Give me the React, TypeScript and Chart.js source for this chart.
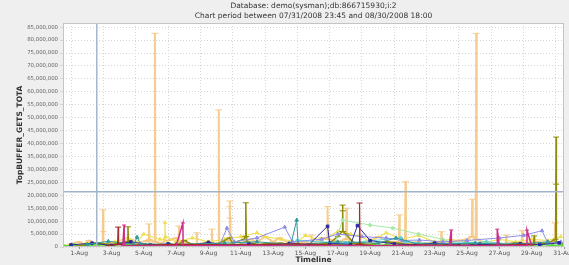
import React, { useEffect, useRef } from "react";
import { Chart, registerables } from "chart.js";

Chart.register(...registerables);

const TITLE_LINES = [
  "Database: demo(sysman);db:866715930;i:2",
  "Chart period between 07/31/2008 23:45 and 08/30/2008 18:00",
];
const Y_TITLE = "TopBUFFER_GETS_TOTA";
const X_TITLE = "Timeline";

// x in days from 1-Aug, y in millions
const X_MIN = -1;
const X_MAX = 30;
const Y_MAX = 86.6;
const X_TICK_DAYS = [0, 2, 4, 6, 8, 10, 12, 14, 16, 18, 20, 22, 24, 26, 28, 30];
const X_TICK_LABELS = [
  "1-Aug", "3-Aug", "5-Aug", "7-Aug", "9-Aug", "11-Aug", "13-Aug", "15-Aug",
  "17-Aug", "19-Aug", "21-Aug", "23-Aug", "25-Aug", "27-Aug", "29-Aug", "31-Aug",
];
const X_GRID_DAYS = [-0.5, 1.5, 3.5, 5.5, 7.5, 9.5, 11.5, 13.5, 15.5, 17.5, 19.5, 21.5, 23.5, 25.5, 27.5, 29.5];
const Y_TICKS = [0, 5, 10, 15, 20, 25, 30, 35, 40, 45, 50, 55, 60, 65, 70, 75, 80, 85];

const MARKER_DAY = 1.09;
const THRESHOLD = 21.35;

const ORANGE_X = [-0.8, -0.5, 0, 0.3, 0.6, 1.0, 1.45, 1.48, 1.49, 1.51, 2.0, 2.5, 3.2, 3.6, 4.2, 4.29, 4.32, 4.35, 4.66, 4.69, 4.72, 5.0, 5.5, 6.0, 6.14, 6.17, 6.2, 6.8, 7.25, 7.28, 7.31, 8.0, 8.18, 8.21, 8.24, 8.61, 8.64, 8.67, 9.0, 9.29, 9.32, 9.33, 9.34, 9.36, 10.0, 10.6, 11.0, 11.5, 12.0, 12.4, 13.0, 14.0, 14.35, 14.38, 14.41, 15.0, 15.34, 15.37, 15.4, 16.0, 16.51, 16.54, 16.57, 17.2, 18.0, 18.5, 19.2, 19.78, 19.81, 19.84, 20.16, 20.19, 20.22, 21.0, 21.5, 22.38, 22.41, 22.44, 23.5, 24.0, 24.29, 24.32, 24.35, 24.54, 24.57, 24.6, 25.0, 25.5, 26.39, 26.42, 26.45, 27.38, 27.41, 27.44, 28.3, 29.0, 29.42, 29.45, 29.48, 30.0];
const ORANGE_Y = [0.5, 1.2, 2.0, 1.0, 2.5, 0.8, 1.0, 14.3, 5.9, 1.0, 2.0, 1.5, 3.0, 1.5, 2.5, 2.0, 8.9, 3.0, 2.0, 82.6, 2.0, 1.5, 2.5, 3.5, 2.0, 8.1, 2.0, 1.2, 1.0, 5.5, 1.0, 2.0, 1.5, 6.9, 1.5, 1.0, 53.0, 1.0, 2.0, 2.5, 17.8, 15.6, 11.2, 2.5, 1.5, 3.0, 2.0, 4.0, 2.0, 3.5, 1.5, 2.0, 1.0, 4.6, 1.0, 3.5, 3.0, 15.6, 3.0, 2.0, 3.0, 15.0, 3.0, 1.5, 2.5, 4.0, 2.0, 2.0, 12.4, 2.0, 1.5, 25.2, 1.5, 2.0, 1.0, 1.5, 5.9, 1.5, 2.5, 3.0, 4.0, 18.5, 4.0, 3.0, 82.6, 3.0, 2.0, 1.5, 1.0, 4.6, 1.0, 1.5, 6.3, 1.5, 2.0, 1.5, 2.0, 9.3, 2.0, 1.0];

const YELLOW_X = [-0.5, 0.5, 1.5, 2.2, 3.0, 3.5, 4.0, 5.0, 5.28, 5.31, 5.34, 6.0, 7.0, 8.0, 9.0, 10.0, 11.0, 11.5, 12.5, 13.5, 14.0, 15.0, 16.0, 16.8, 17.5, 18.0, 19.0, 20.0, 21.0, 22.0, 23.0, 24.0, 25.0, 26.0, 27.0, 28.0, 29.0, 29.8];
const YELLOW_Y = [0.8, 1.5, 1.0, 2.0, 3.5, 1.5, 5.0, 3.0, 3.0, 9.4, 4.0, 2.0, 3.5, 2.0, 3.0, 4.0, 5.5, 4.0, 3.0, 2.0, 4.5, 2.5, 6.0, 5.0, 4.0, 2.0, 5.5, 3.0, 4.5, 2.0, 3.0, 2.0, 1.5, 3.0, 2.0, 3.0, 2.5, 4.0];

const OLIVE_X = [0, 1.0, 2.0, 2.99, 3.02, 3.05, 3.5, 4.5, 6.0, 6.5, 7.0, 8.5, 9.3, 9.5, 10.2, 10.28, 10.31, 10.34, 10.4, 11.0, 12.5, 13.0, 14.5, 15.5, 16.0, 16.27, 16.3, 16.31, 16.33, 16.5, 17.0, 18.0, 19.0, 20.5, 22.0, 23.0, 24.0, 25.5, 27.0, 28.12, 28.15, 28.18, 29.0, 29.48, 29.51, 29.52, 29.54, 29.8];
const OLIVE_Y = [0.5, 1.5, 1.0, 2.0, 7.8, 1.5, 0.8, 1.0, 0.5, 2.5, 1.0, 1.0, 3.5, 1.5, 3.0, 4.0, 17.1, 4.0, 2.0, 1.0, 1.5, 0.5, 1.0, 1.5, 4.0, 6.0, 16.2, 14.0, 6.0, 5.0, 1.5, 1.0, 2.0, 1.0, 1.5, 0.8, 1.5, 1.0, 1.5, 1.0, 4.3, 1.0, 1.5, 3.0, 42.5, 24.3, 2.0, 1.5];

const GREEN_X = [-0.9, -0.3, 0.4, 1.2, 2.0, 2.7, 3.4, 4.1, 4.9, 5.6, 6.3, 7.0, 7.8, 8.5, 9.2, 10.0, 10.8, 11.5, 12.2, 13.0, 13.8, 14.5, 15.2, 16.0, 16.7, 17.5, 18.3, 19.0, 19.8, 20.6, 21.4, 22.2, 23.0, 23.8, 24.6, 25.4, 26.2, 27.0, 27.8, 28.6, 29.3, 29.9];
const GREEN_Y = [0.3, 0.8, 0.4, 1.0, 0.5, 1.2, 0.6, 0.9, 0.4, 1.1, 0.5, 0.8, 0.3, 1.0, 0.6, 0.7, 0.4, 1.2, 0.5, 0.9, 0.6, 0.4, 1.0, 0.7, 1.5, 0.8, 0.5, 0.9, 0.4, 0.7, 1.0, 0.5, 0.8, 0.4, 0.9, 0.6, 0.3, 0.8, 0.5, 1.0, 0.6, 0.9];

const BLUE_X = [-0.5, 0.8, 2.0, 3.2, 4.4, 5.5, 6.8, 8.0, 9.0, 10.5, 11.8, 13.0, 14.2, 15.37, 15.5, 16.8, 17.22, 18.0, 19.5, 20.8, 22.0, 23.5, 24.8, 26.0, 27.3, 28.5, 29.7];
const BLUE_Y = [0.8, 1.5, 0.6, 2.0, 0.8, 1.2, 0.5, 1.8, 0.7, 1.2, 0.6, 1.4, 0.8, 8.0, 1.5, 1.0, 8.3, 2.5, 1.2, 0.8, 1.5, 0.6, 1.1, 0.7, 1.3, 0.9, 1.6];

const LAV_X = [8.7, 9.14, 9.6, 11.0, 12.72, 13.2, 15.0, 16.0, 17.5, 19.0, 20.0, 21.05, 22.5, 24.0, 26.0, 27.5, 28.64, 29.0, 29.8];
const LAV_Y = [0.8, 7.3, 2.0, 3.5, 7.7, 2.0, 3.0, 5.0, 4.0, 3.5, 2.5, 2.7, 2.0, 2.5, 3.5, 4.5, 6.3, 1.5, 2.0];

const TEAL_X = [0.5, 1.8, 3.4, 3.58, 3.8, 6.0, 9.0, 11.0, 13.1, 13.46, 13.55, 16.0, 18.5, 19.6, 21.0, 24.5, 27.0, 29.0];
const TEAL_Y = [1.0, 2.2, 1.0, 3.8, 1.2, 1.0, 1.5, 2.0, 1.0, 10.4, 1.0, 2.0, 1.5, 3.5, 1.0, 1.5, 1.0, 2.0];

const RED_X = [1.8, 2.38, 2.41, 2.44, 3.0, 6.0, 10.0, 13.5, 16.8, 17.32, 17.35, 17.38, 18.0, 21.0, 25.0, 28.0];
const RED_Y = [0.5, 1.0, 7.7, 1.0, 0.5, 1.0, 0.8, 1.2, 0.6, 1.0, 17.0, 1.0, 0.5, 0.8, 0.6, 1.0];

const MAG_X = [2.7, 2.78, 2.79, 3.0, 6.0, 6.42, 6.43, 7.0, 22.9, 23.02, 23.03, 25.86, 25.87, 26.0, 27.7, 27.71, 28.0];
const MAG_Y = [0.5, 8.5, 0.5, 0.4, 0.5, 9.3, 0.5, 0.5, 0.4, 6.6, 0.4, 0.4, 6.9, 0.5, 0.5, 6.5, 0.4];

const LG_X = [15.8, 16.3, 18.0, 19.4, 21.0, 22.5, 23.5];
const LG_Y = [1.0, 10.4, 8.5, 7.3, 5.0, 3.0, 1.0];

const CYAN_X = [13.0, 13.5, 16.5, 19.9, 20.2, 22.0, 25.2, 27.0];
const CYAN_Y = [1.0, 2.5, 1.5, 3.5, 2.0, 1.2, 2.0, 1.0];

const FONT = "'DejaVu Sans', sans-serif";

const pts = (xs: number[], ys: number[]) => xs.map((x, i) => ({ x, y: ys[i] }));

const mk = (data: any[], color: string, width: number, style: string, radius: number) => ({
  type: "line" as const,
  data,
  xAxisID: "x",
  yAxisID: "y",
  borderColor: color,
  backgroundColor: color,
  borderWidth: width,
  pointStyle: style,
  pointRadius: radius,
  pointBorderColor: color,
  pointBackgroundColor: color,
  pointBorderWidth: 1,
  tension: 0,
  fill: false,
});

const framePlugin = {
  id: "frame",
  beforeDraw(chart: any) {
    const { ctx, chartArea: a, width, height } = chart;
    ctx.save();
    ctx.fillStyle = "#EFEFEF";
    ctx.fillRect(0, 0, width, height);
    ctx.fillStyle = "#FFFFFF";
    ctx.fillRect(a.left, a.top, a.right - a.left, a.bottom - a.top);
    ctx.restore();
  },
  afterDraw(chart: any) {
    const { ctx, chartArea: a } = chart;
    ctx.save();
    ctx.strokeStyle = "#C4C4C4";
    ctx.lineWidth = 1;
    ctx.strokeRect(a.left + 0.5, a.top + 0.5, a.right - a.left - 1, a.bottom - a.top - 1);
    ctx.fillStyle = "#333333";
    ctx.font = `7.5px ${FONT}`;
    ctx.textAlign = "center";
    ctx.textBaseline = "middle";
    const cx = (a.left + a.right) / 2;
    ctx.fillText(TITLE_LINES[0], cx, 6.5);
    ctx.fillText(TITLE_LINES[1], cx, 16);
    ctx.restore();
  },
};

export default function App() {
  const ref = useRef<HTMLCanvasElement>(null);
  useEffect(() => {
    if (!ref.current) return;
    const chart = new Chart(ref.current, {
      type: "line",
      data: {
        datasets: [
          mk([{ x: MARKER_DAY, y: 0 }, { x: MARKER_DAY, y: Y_MAX }], "#A3B6C9", 1.5, "circle", 0),
          mk([{ x: X_MIN, y: THRESHOLD }, { x: X_MAX, y: THRESHOLD }], "#A3B6C9", 1.5, "circle", 0),
          mk(pts(MAG_X, MAG_Y), "#CC2E8A", 1.5, "line", 2),
          mk(pts(RED_X, RED_Y), "#A52A2A", 1.2, "line", 3),
          mk(pts(TEAL_X, TEAL_Y), "#2E9A9A", 1, "triangle", 2),
          mk(pts(BLUE_X, BLUE_Y), "#2A2AA0", 1, "rect", 1.8),
          mk(pts(LAV_X, LAV_Y), "#8F8FE8", 1, "triangle", 2),
          mk(pts(CYAN_X, CYAN_Y), "#5BD8E0", 1, "circle", 1.5),
          mk(pts(LG_X, LG_Y), "#A6EAA6", 1, "circle", 1.5),
          mk(pts(OLIVE_X, OLIVE_Y), "#8C8C0A", 1.5, "line", 3),
          mk(pts(GREEN_X, GREEN_Y), "#55DD33", 1.5, "circle", 1.5),
          mk(pts(YELLOW_X, YELLOW_Y), "rgba(240,222,80,0.9)", 1.2, "triangle", 2),
          mk(pts(ORANGE_X, ORANGE_Y), "rgba(245,196,125,0.85)", 2, "line", 3.5),
        ],
      },
      options: {
        animation: false,
        responsive: false,
        maintainAspectRatio: false,
        layout: { padding: { top: 23, right: 4, left: 0, bottom: 0 } },
        plugins: { legend: { display: false }, tooltip: { enabled: false }, title: { display: false } },
        scales: {
          x: {
            type: "linear",
            position: "bottom",
            min: X_MIN,
            max: X_MAX,
            afterBuildTicks: (s: any) => {
              s.ticks = X_TICK_DAYS.map((v) => ({ value: v }));
            },
            afterFit: (s: any) => {
              s.height = 18;
              s.paddingLeft = 0;
              s.paddingRight = 0;
            },
            ticks: {
              autoSkip: false,
              maxRotation: 0,
              minRotation: 0,
              padding: 1,
              color: "#555555",
              font: { size: 6, family: FONT },
              callback: (_v: any, i: number) => X_TICK_LABELS[i],
            },
            grid: { drawOnChartArea: false, tickLength: 2, color: "#999999" },
            border: { display: false },
            title: {
              display: true,
              text: X_TITLE,
              color: "#333333",
              font: { size: 7.5, weight: "bold", family: FONT },
              padding: { top: 0, bottom: 0 },
            },
          },
          xg: {
            type: "linear",
            position: "bottom",
            min: X_MIN,
            max: X_MAX,
            afterBuildTicks: (s: any) => {
              s.ticks = X_GRID_DAYS.map((v) => ({ value: v }));
            },
            afterFit: (s: any) => {
              s.height = 0;
              s.paddingLeft = 0;
              s.paddingRight = 0;
            },
            ticks: { display: false },
            grid: { color: "#D6D6D6", drawTicks: false, lineWidth: 1 },
            border: { display: false, dash: [1, 2] },
          },
          y: {
            type: "linear",
            min: 0,
            max: Y_MAX,
            afterBuildTicks: (s: any) => {
              s.ticks = Y_TICKS.map((v) => ({ value: v }));
            },
            afterFit: (s: any) => {
              s.width = 63;
              s.paddingTop = 0;
              s.paddingBottom = 0;
            },
            ticks: {
              padding: 2,
              color: "#666666",
              font: { size: 5.4, family: FONT },
              callback: (v: any) => Math.round(Number(v) * 1e6).toLocaleString("en-US"),
            },
            grid: { color: "#D6D6D6", tickLength: 3, lineWidth: 1 },
            border: { display: false, dash: [1, 2] },
            title: {
              display: true,
              text: Y_TITLE,
              color: "#333333",
              font: { size: 7.5, weight: "bold", family: FONT },
              padding: { top: 16, bottom: 0 },
            },
          },
        },
      } as any,
      plugins: [framePlugin],
    });
    return () => chart.destroy();
  }, []);
  return (
    <div style={{ position: "fixed", left: 0, top: 0, width: 569, height: 265 }}>
      <canvas ref={ref} width={569} height={265} style={{ width: 569, height: 265, display: "block" }} />
    </div>
  );
}
